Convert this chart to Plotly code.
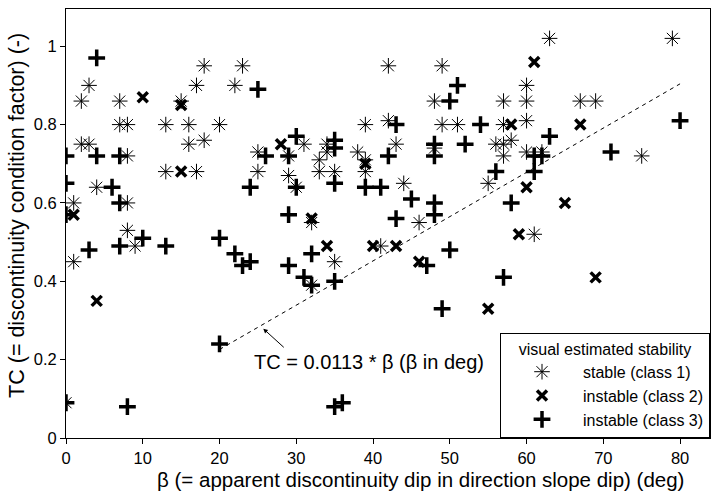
import plotly.graph_objects as go

# ---- data ----
stable_beta = [0, 1, 1, 2, 2, 3, 3, 4, 7, 7, 8, 8, 8, 8, 9, 13, 13, 15, 16, 16, 17, 17, 18, 18,
               20, 22, 23, 25, 25, 29, 29, 30, 31, 32, 32, 33, 33, 34, 34, 35, 35, 38, 39, 39, 39,
               41, 42, 42, 43, 44, 46, 48, 48, 49, 49, 51, 55, 56, 57, 57, 57, 57, 58, 60, 60, 60,
               60, 61, 62, 63, 67, 69, 75, 79]
stable_tc = [0.09, 0.60, 0.45, 0.86, 0.75, 0.90, 0.75, 0.64, 0.86, 0.80, 0.80, 0.72, 0.60, 0.53, 0.49,
             0.80, 0.68, 0.86, 0.80, 0.75, 0.90, 0.68, 0.95, 0.76,
             0.80, 0.90, 0.95, 0.73, 0.68, 0.72, 0.67, 0.64, 0.75, 0.55, 0.39, 0.71, 0.68, 0.73, 0.75,
             0.68, 0.45, 0.73, 0.80, 0.71, 0.68,
             0.49, 0.95, 0.81, 0.75, 0.65, 0.55, 0.86, 0.74, 0.95, 0.80, 0.80, 0.65, 0.75, 0.86, 0.80,
             0.75, 0.72, 0.76, 0.90, 0.86,
             0.81, 0.73, 0.52, 0.73, 1.02, 0.86, 0.86, 0.72, 1.02]

class2_beta = [1, 4, 10, 15, 15, 28, 32, 34, 39, 40, 43, 46, 55, 58, 59, 60, 61, 65, 67, 69]
class2_tc = [0.57, 0.35, 0.87, 0.85, 0.68, 0.75, 0.56, 0.49, 0.70, 0.49, 0.49, 0.45, 0.33, 0.80,
             0.52, 0.64, 0.96, 0.60, 0.80, 0.41]

class3_beta = [0, 0, 0, 0, 3, 4, 4, 6, 7, 7, 7, 8, 10, 13, 20, 20, 22, 23, 24, 24, 25, 26, 29, 29,
               29, 30, 30, 31, 32, 32, 35, 35, 35, 35, 35, 36, 39, 41, 42, 43, 43, 45, 47, 48, 48,
               48, 48, 49, 50, 50, 51, 52, 54, 56, 57, 58, 61, 61, 62, 63, 71, 80]
class3_tc = [0.72, 0.65, 0.57, 0.09, 0.48, 0.97, 0.72, 0.64, 0.72, 0.60, 0.49, 0.08, 0.51, 0.49,
             0.51, 0.24, 0.47, 0.44, 0.45, 0.64, 0.89, 0.72, 0.72, 0.57,
             0.44, 0.77, 0.64, 0.41, 0.47, 0.39, 0.76, 0.74, 0.65, 0.40, 0.08, 0.09, 0.64, 0.64, 0.72,
             0.80, 0.56, 0.61, 0.44, 0.75, 0.72,
             0.60, 0.57, 0.33, 0.86, 0.48, 0.90, 0.75, 0.80, 0.68, 0.41, 0.60, 0.72, 0.68, 0.72, 0.77,
             0.73, 0.81]

fit_slope = 0.0113
fit_beta = [20, 80]
fit_tc = [fit_slope * b for b in fit_beta]

x_ticks = [0, 10, 20, 30, 40, 50, 60, 70, 80]
y_ticks = [0, 0.2, 0.4, 0.6, 0.8, 1]
y_tick_labels = ["0", "0.2", "0.4", "0.6", "0.8", "1"]

FONT = "Liberation Sans, Arial, sans-serif"

fig = go.Figure()

fig.add_trace(go.Scatter(
    x=fit_beta, y=fit_tc, mode="lines", showlegend=False,
    line=dict(color="black", width=1, dash="4px,4px"), hoverinfo="skip"))

fig.add_trace(go.Scatter(
    x=stable_beta, y=stable_tc, mode="markers", name="stable (class 1)",
    marker=dict(symbol="asterisk-open", size=13, color="black",
                line=dict(color="black", width=1))))
fig.add_trace(go.Scatter(
    x=class2_beta, y=class2_tc, mode="markers", name="instable (class 2)",
    marker=dict(symbol="x-thin-open", size=10, color="black",
                line=dict(color="black", width=3.5))))
fig.add_trace(go.Scatter(
    x=class3_beta, y=class3_tc, mode="markers", name="instable (class 3)",
    marker=dict(symbol="cross-thin-open", size=12, color="black",
                line=dict(color="black", width=3.5))))

# formula label with arrow
fig.add_annotation(x=25.7, y=0.279, xref="x", yref="y", text="",
                   showarrow=True, ax=22, ay=20, arrowhead=2, arrowsize=0.9,
                   arrowwidth=1, arrowcolor="black")
fig.add_annotation(x=39.5, y=0.195, xref="x", yref="y",
                   text="TC = 0.0113 * β (β in deg)", showarrow=False,
                   font=dict(family=FONT, size=20, color="black"))

# axis titles (placed as in the reference)
fig.add_annotation(x=0.551, y=-0.129, xref="paper", yref="paper",
                   xanchor="center", yanchor="bottom", showarrow=False,
                   text="β (= apparent discontinuity dip in direction slope dip) (deg)",
                   font=dict(family=FONT, size=20.5, color="black"))
fig.add_annotation(x=-0.0761, y=0.52, xref="paper", yref="paper",
                   xanchor="center", yanchor="middle", showarrow=False, textangle=-90,
                   text="TC (= discontinuity condition factor) (-)",
                   font=dict(family=FONT, size=21.5, color="black"))

fig.update_layout(
    width=711, height=493,
    margin=dict(l=66, r=1, t=9, b=55),
    paper_bgcolor="white", plot_bgcolor="white",
    font=dict(family=FONT, size=15, color="black"),
    legend=dict(
        x=1, y=0, xanchor="right", yanchor="bottom",
        bgcolor="white", bordercolor="black", borderwidth=1,
        font=dict(family=FONT, size=16, color="black"),
        title=dict(text="visual estimated stability", side="top center",
                   font=dict(family=FONT, size=16, color="black")),
        itemwidth=72, tracegroupgap=0,
    ),
)

fig.update_xaxes(
    range=[0, 83.9], tickmode="array", tickvals=x_ticks,
    ticks="outside", ticklen=5, tickcolor="black", tickwidth=1,
    showline=True, linecolor="black", linewidth=1, mirror=True,
    showgrid=False, zeroline=False, automargin=False,
    tickfont=dict(family=FONT, size=16.5, color="black"),
)
fig.update_yaxes(
    range=[0, 1.095], tickmode="array", tickvals=y_ticks, ticktext=y_tick_labels,
    ticks="outside", ticklen=5, tickcolor="black", tickwidth=1,
    showline=True, linecolor="black", linewidth=1, mirror=True,
    showgrid=False, zeroline=False, automargin=False,
    tickfont=dict(family=FONT, size=16.5, color="black"),
)

fig.write_html("out.html", config={"displayModeBar": False},
               post_script="document.body.style.margin='0px';")
